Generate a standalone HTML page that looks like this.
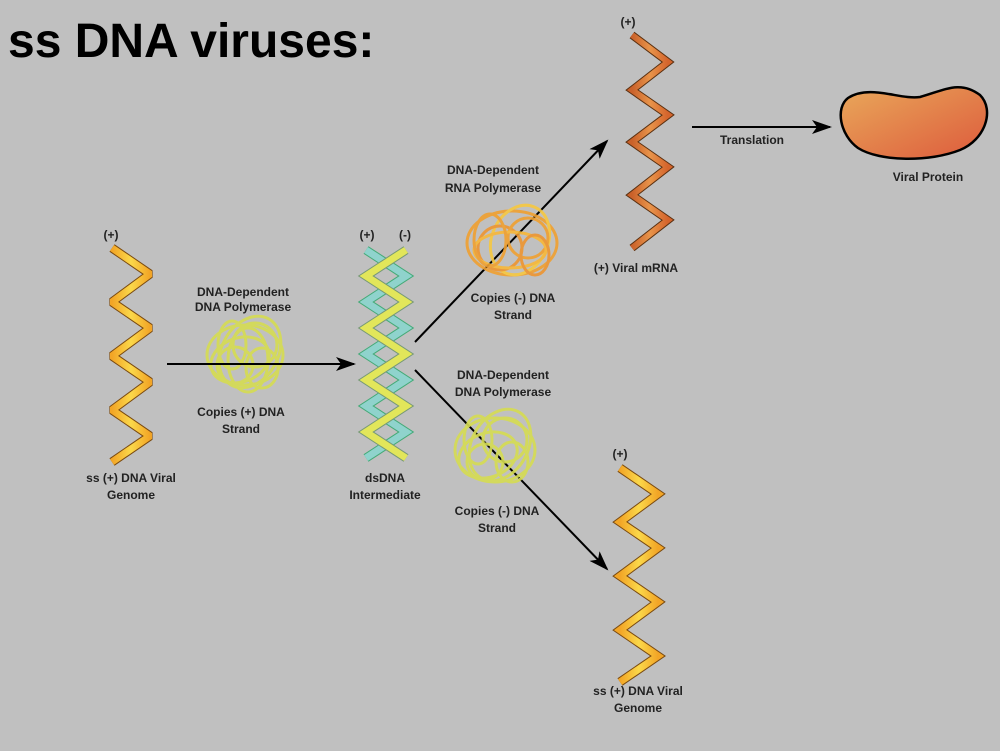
<!DOCTYPE html>
<html><head><style>
body{margin:0;background:#c0c0c0;}
svg{display:block}
text{font-family:"Liberation Sans",sans-serif;font-weight:bold;fill:#222;}
.s{font-size:12px;text-anchor:middle}
</style></head><body>
<svg width="1000" height="751" viewBox="0 0 1000 751" xmlns="http://www.w3.org/2000/svg">
<defs>
<linearGradient id="yo" x1="0" x2="1"><stop offset="0" stop-color="#f2a526"/><stop offset="0.5" stop-color="#fbd84a"/><stop offset="1" stop-color="#f2a526"/></linearGradient>
<linearGradient id="or" x1="0" x2="1"><stop offset="0" stop-color="#c9612a"/><stop offset="0.5" stop-color="#e8944a"/><stop offset="1" stop-color="#d4642c"/></linearGradient>
<linearGradient id="pr" x1="0" y1="0" x2="1" y2="1"><stop offset="0" stop-color="#e9a85a"/><stop offset="1" stop-color="#dd5a3c"/></linearGradient>
<marker id="ah" markerWidth="20" markerHeight="14" refX="18" refY="7" orient="auto" markerUnits="userSpaceOnUse" viewBox="0 0 20 14"><path d="M0,0 L20,7 L0,14 L5,7z" fill="#000"/></marker>
</defs>
<text x="8" y="57" style="font-size:48px;fill:#000">ss DNA viruses:</text>

<!-- left helix -->
<polyline points="112,248 150,274 112,302 150,328 112,356 150,382 112,410 150,436 112,462" fill="none" stroke="#7a4a10" stroke-width="9" stroke-linejoin="bevel"/>
<polyline points="112,248 150,274 112,302 150,328 112,356 150,382 112,410 150,436 112,462" fill="none" stroke="url(#yo)" stroke-width="7" stroke-linejoin="bevel"/>
<text class="s" x="111" y="239">(+)</text>
<text class="s" x="131" y="482">ss (+) DNA Viral</text>
<text class="s" x="131" y="499">Genome</text>

<!-- polymerase 1 -->
<g fill="none" stroke="#d6dc52" stroke-width="3" opacity="0.9">
<ellipse cx="245" cy="355" rx="38" ry="30"/><ellipse cx="250" cy="352" rx="28" ry="38" transform="rotate(30 250 352)"/>
<ellipse cx="240" cy="360" rx="30" ry="22" transform="rotate(-20 240 360)"/><circle cx="255" cy="345" r="22"/><circle cx="235" cy="365" r="18"/>
<ellipse cx="248" cy="360" rx="20" ry="32"/><ellipse cx="232" cy="345" rx="14" ry="24"/><ellipse cx="262" cy="368" rx="16" ry="20"/></g>
<text class="s" x="243" y="296">DNA-Dependent</text>
<text class="s" x="243" y="311">DNA Polymerase</text>
<text class="s" x="241" y="416">Copies (+) DNA</text>
<text class="s" x="241" y="433">Strand</text>
<line x1="167" y1="364" x2="354" y2="364" stroke="#000" stroke-width="2" marker-end="url(#ah)"/>

<!-- dsDNA -->
<polyline points="366,250 406,276 366,302 406,328 366,354 406,380 366,406 406,432 366,458" fill="none" stroke="#4a7" stroke-width="9"/>
<polyline points="366,250 406,276 366,302 406,328 366,354 406,380 366,406 406,432 366,458" fill="none" stroke="#8fd3cc" stroke-width="7"/>
<polyline points="406,250 366,276 406,302 366,328 406,354 366,380 406,406 366,432 406,458" fill="none" stroke="#797" stroke-width="9"/>
<polyline points="406,250 366,276 406,302 366,328 406,354 366,380 406,406 366,432 406,458" fill="none" stroke="#e2e65a" stroke-width="7"/>
<text class="s" x="367" y="239">(+)</text>
<text class="s" x="405" y="239">(-)</text>
<text class="s" x="385" y="482">dsDNA</text>
<text class="s" x="385" y="499">Intermediate</text>

<!-- arrows -->
<line x1="415" y1="342" x2="607" y2="141" stroke="#000" stroke-width="2" marker-end="url(#ah)"/>
<line x1="415" y1="370" x2="607" y2="569" stroke="#000" stroke-width="2" marker-end="url(#ah)"/>

<!-- polymerase 2 orange -->
<g fill="none" stroke-width="3" opacity="0.9">
<ellipse cx="512" cy="243" rx="45" ry="32" stroke="#f0a030"/><ellipse cx="520" cy="240" rx="28" ry="36" stroke="#f7c840" transform="rotate(25 520 240)"/>
<circle cx="500" cy="248" r="22" stroke="#ee9530"/><circle cx="528" cy="238" r="20" stroke="#f0a030"/><ellipse cx="510" cy="250" rx="36" ry="18" stroke="#f8b838"/>
<ellipse cx="490" cy="240" rx="16" ry="26" stroke="#f0a030"/><ellipse cx="535" cy="255" rx="14" ry="20" stroke="#ee9530"/></g>
<text class="s" x="493" y="174">DNA-Dependent</text>
<text class="s" x="493" y="192">RNA Polymerase</text>
<text class="s" x="513" y="302">Copies (-) DNA</text>
<text class="s" x="513" y="319">Strand</text>

<!-- mRNA helix -->
<polyline points="632,35 668,62 632,90 668,115 632,142 668,167 632,195 668,220 632,248" fill="none" stroke="#5a3010" stroke-width="8"/>
<polyline points="632,35 668,62 632,90 668,115 632,142 668,167 632,195 668,220 632,248" fill="none" stroke="url(#or)" stroke-width="6"/>
<text class="s" x="628" y="26">(+)</text>
<text class="s" x="636" y="272">(+) Viral mRNA</text>
<line x1="692" y1="127" x2="830" y2="127" stroke="#000" stroke-width="2" marker-end="url(#ah)"/>
<text class="s" x="752" y="144">Translation</text>
<path d="M848,98 C870,84 900,100 920,97 C945,90 960,80 980,95 C995,110 985,140 960,150 C930,162 880,162 858,148 C840,135 835,108 848,98Z" fill="url(#pr)" stroke="#000" stroke-width="2.5"/>
<text class="s" x="928" y="181">Viral Protein</text>

<!-- polymerase 3 -->
<g fill="none" stroke="#d6dc52" stroke-width="3" opacity="0.9">
<ellipse cx="495" cy="450" rx="40" ry="32"/><ellipse cx="500" cy="445" rx="28" ry="38" transform="rotate(30 500 445)"/>
<ellipse cx="488" cy="455" rx="30" ry="22" transform="rotate(-20 488 455)"/><circle cx="505" cy="440" r="22"/><circle cx="485" cy="462" r="18"/>
<ellipse cx="478" cy="440" rx="14" ry="24"/><ellipse cx="512" cy="462" rx="16" ry="20"/></g>
<text class="s" x="503" y="379">DNA-Dependent</text>
<text class="s" x="503" y="396">DNA Polymerase</text>
<text class="s" x="497" y="515">Copies (-) DNA</text>
<text class="s" x="497" y="532">Strand</text>

<!-- bottom helix -->
<polyline points="620,468 658,494 620,522 658,548 620,576 658,602 620,630 658,656 620,682" fill="none" stroke="#7a4a10" stroke-width="9"/>
<polyline points="620,468 658,494 620,522 658,548 620,576 658,602 620,630 658,656 620,682" fill="none" stroke="url(#yo)" stroke-width="7"/>
<text class="s" x="620" y="458">(+)</text>
<text class="s" x="638" y="695">ss (+) DNA Viral</text>
<text class="s" x="638" y="712">Genome</text>
</svg>
</body></html>
